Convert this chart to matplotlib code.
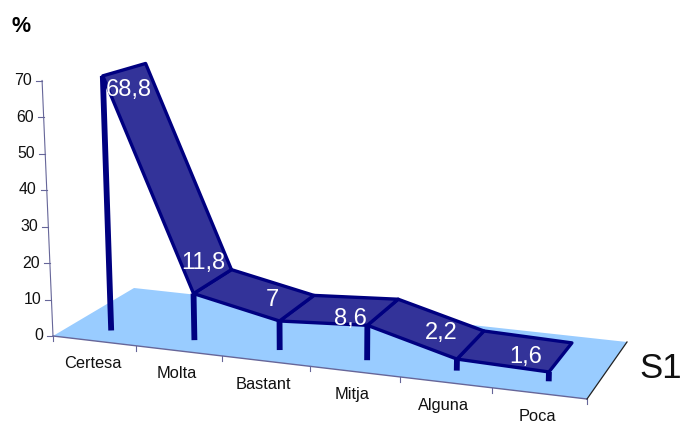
#!/usr/bin/env python3

"""
Ribbon chart in a 3D look: one series over six answer categories on a tilted floor.
"""

import numpy as np
import matplotlib

matplotlib.use("Agg")
import matplotlib.pyplot as plt
from matplotlib.patches import Polygon

categories = ["Certesa", "Molta", "Bastant", "Mitja", "Alguna", "Poca"]
values = [68.8, 11.8, 7, 8.6, 2.2, 1.6]
value_labels = ["68,8", "11,8", "7", "8,6", "2,2", "1,6"]
value_ticks = [0, 10, 20, 30, 40, 50, 60, 70]
series_name = "S1"
axis_title = "%"

NAVY = "#000080"
RIBBON = "#333399"
FLOOR = "#99CCFF"
AXIS = "#666699"

# floor corners on the canvas: front left, front right, back right, back left
FLOOR_CORNERS = [(53, 336), (587, 399), (627, 342), (134, 288)]
PX_PER_UNIT = 3.65
RIBBON_FRONT = 0.2
RIBBON_BACK = 0.72
# the ribbon sits a little above its stems' nominal height
RIBBON_LIFT = 3.5

plt.rcParams["font.family"] = ["Liberation Sans", "DejaVu Sans"]


def floor_homography(corners):
    src = [(0, 0), (1, 0), (1, 1), (0, 1)]
    rows = []
    rhs = []
    for (u, d), (x, y) in zip(src, corners):
        rows.append([u, d, 1, 0, 0, 0, -u * x, -d * x])
        rows.append([0, 0, 0, u, d, 1, -u * y, -d * y])
        rhs += [x, y]
    h = np.linalg.solve(np.array(rows, dtype=float), np.array(rhs, dtype=float))
    return np.append(h, 1.0).reshape(3, 3)


H = floor_homography(FLOOR_CORNERS)


def project(pos, depth, value=0.0, lift=0.0):
    """pos in category units (0..6), depth 0..1 across the floor, value in %"""
    u = pos / len(categories)
    x, y, w = H @ np.array([u, depth, 1.0])
    x, y = x / w, y / w
    # verticals converge slightly downwards and shrink towards the back
    lean = (x - 320) * 1.6e-4
    rise = value * PX_PER_UNIT * (1 - 0.1 * max(depth - RIBBON_FRONT, 0))
    return x + lean * rise, y - rise - lift


fig = plt.figure(figsize=(6.83, 4.21), dpi=100)
ax = fig.add_axes([0, 0, 1, 1])
ax.set_xlim(0, 683)
ax.set_ylim(421, 0)
ax.axis("off")

n = len(categories)

# floor
floor = [project(0, 0), project(n, 0), project(n, 1), project(0, 1)]
ax.add_patch(Polygon(floor, closed=True, facecolor=FLOOR, edgecolor="none", zorder=1))

# value axis
bottom = project(0, 0)
top = project(0, 0, value_ticks[-1])
ax.plot([bottom[0], top[0]], [bottom[1], top[1]], color=AXIS, lw=0.8, zorder=2)
for tick in value_ticks:
    x, y = project(0, 0, tick)
    ax.plot([x - 6, x], [y, y], color=AXIS, lw=0.8, zorder=2)
    ax.text(x - 10, y, str(tick), ha="right", va="center", fontsize=11.4, color="#111111")

# category axis along the front of the floor
front = [project(i, 0) for i in range(n + 1)]
ax.plot([p[0] for p in front], [p[1] for p in front], color=AXIS, lw=1.0, zorder=2)
for x, y in front:
    ax.plot([x, x], [y, y + 5], color=AXIS, lw=0.8, zorder=2)
right_back = project(n, 1)
ax.plot([front[-1][0], right_back[0]], [front[-1][1], right_back[1]], color="#222222", lw=0.9, zorder=2)

for i, name in enumerate(categories):
    x, y = project(i + 0.5, 0)
    ax.text(x - 2, y + 23, name, ha="center", va="center", fontsize=11.8, color="#111111", clip_on=False)

# stems from the floor up to the front of the ribbon
for i, value in enumerate(values):
    x0, y0 = project(i + 0.5, RIBBON_FRONT)
    x1, y1 = project(i + 0.5, RIBBON_FRONT, value, RIBBON_LIFT)
    ax.plot([x0, x1], [y0, y1], color=NAVY, lw=4.2, solid_capstyle="butt", zorder=3)

# ribbon, one panel per step, far end first
for i in range(n - 2, -1, -1):
    panel = [
        project(i + 0.5, RIBBON_FRONT, values[i], RIBBON_LIFT),
        project(i + 1.5, RIBBON_FRONT, values[i + 1], RIBBON_LIFT),
        project(i + 1.5, RIBBON_BACK, values[i + 1], RIBBON_LIFT),
        project(i + 0.5, RIBBON_BACK, values[i], RIBBON_LIFT),
    ]
    ax.add_patch(Polygon(panel, closed=True, facecolor=RIBBON, edgecolor=NAVY, lw=2.4, joinstyle="round", zorder=4))

# value labels, offset from the middle of the ribbon at each category
label_offsets = [(4, 21), (-10, -18), (-25, -8), (-33, 7), (-29, -12), (-35, 0)]
for i, (value, text) in enumerate(zip(values, value_labels)):
    x, y = project(i + 0.5, (RIBBON_FRONT + RIBBON_BACK) / 2, value, RIBBON_LIFT)
    dx, dy = label_offsets[i]
    ax.text(x + dx, y + dy, text, ha="center", va="center", fontsize=17, color="white", zorder=6)

ax.text(21, 27, axis_title, ha="center", va="center", fontsize=15.5, fontweight="bold", color="black")
ax.text(639, 368, series_name, ha="left", va="center", fontsize=25, color="#111111")

fig.savefig("out.png", dpi=100)
plt.close(fig)
